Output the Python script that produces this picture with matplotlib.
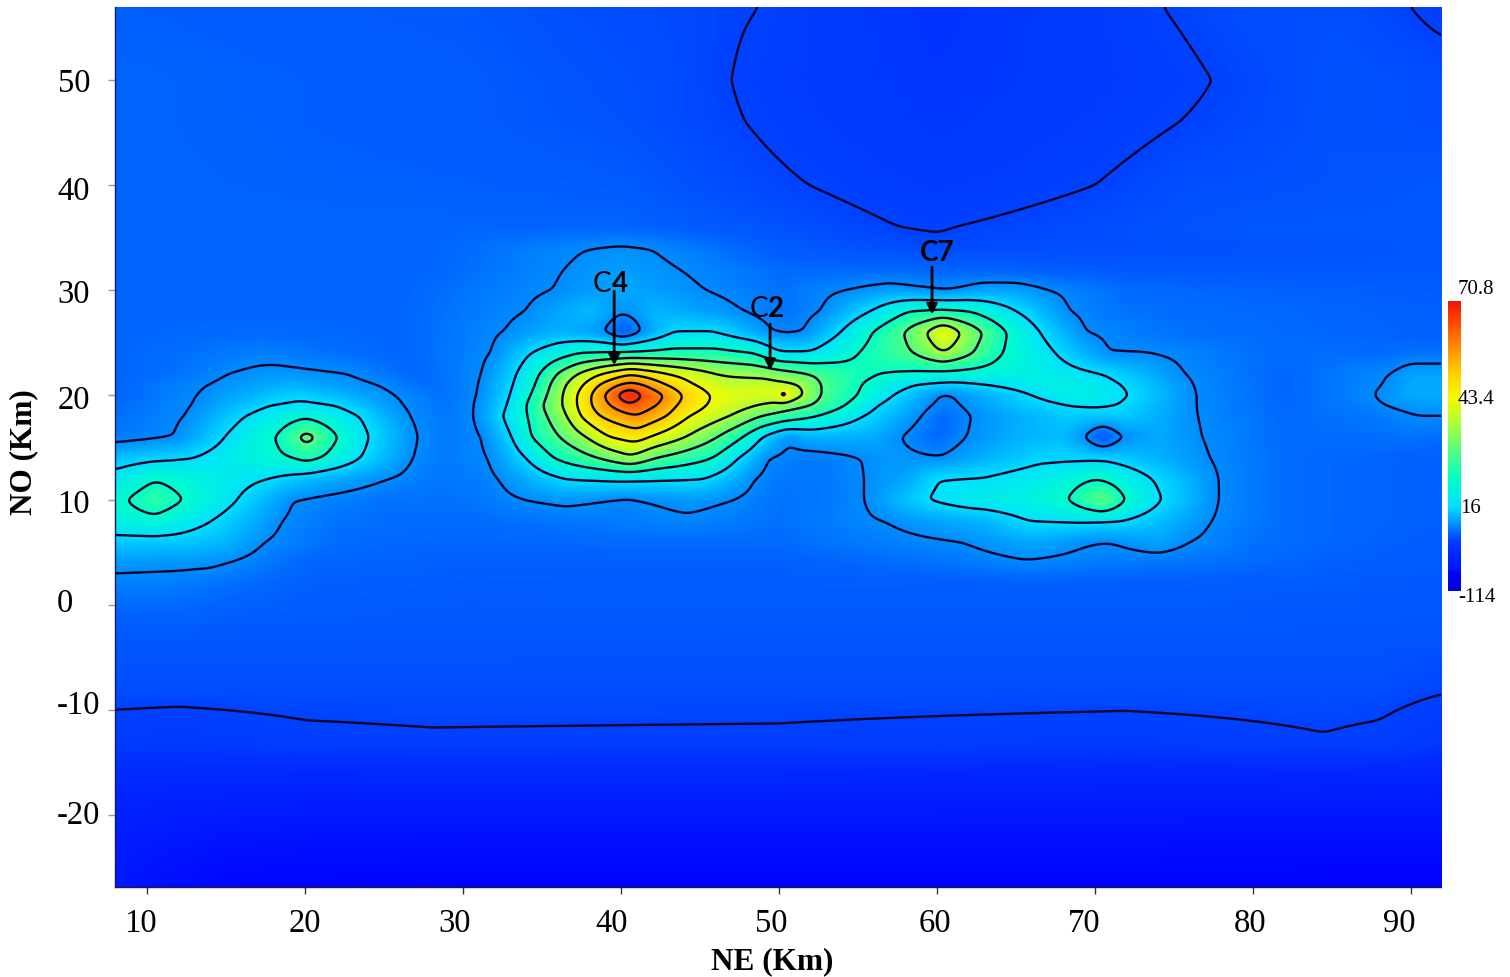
import numpy as np
import matplotlib
matplotlib.use('Agg')
import matplotlib.pyplot as plt
from matplotlib.colors import LinearSegmentedColormap, Normalize
from matplotlib.transforms import ScaledTranslation

W, H = 1510, 978
plt.rcParams['font.family'] = ['Liberation Serif', 'DejaVu Serif']

# values read along horizontal lines of the map: (NE km, value)
row_m27 = [(8, -22), (15, -36), (30, -40), (92, -40)]
row_m20 = [(8, -14), (20, -20), (60, -20), (92, -22)]
row_m13 = [(8, -0.25), (12, -0.9), (20, 1.0), (28, 1.47), (50, 1.23), (60, 0.62), (72, -0.07), (84.5, 1.71), (88, 1.0), (92, -1.6)]
row_m8 = [(8, 3.5), (88, 3.5), (92, 2.4)]
row_m3 = [(8, 4.5), (92, 4.3)]
row_2 = [(8, 8), (12, 7.8), (16, 6.5), (20, 5.5), (30, 5), (60, 5.2), (75, 5.2), (92, 4.5)]
row_4 = [(8, 10), (14, 9.6), (15, 9), (20, 6), (30, 5.5), (50, 5.5), (60, 7), (65.5, 8.6), (72, 7.5), (77, 7), (85, 5.5), (92, 5)]
row_6 = [(8, 14), (12, 14), (15, 12.5), (17.4, 9), (22, 6.5), (30, 6), (40, 6.5), (50, 6.5), (61.6, 9), (66, 11.5), (69, 9.5), (70.2, 9), (70.5, 8.9), (71.1, 9), (74, 11), (76, 9), (80, 7), (92, 5)]
row_8 = [(8, 20), (10.5, 21.5), (14.05, 16), (18.45, 9), (22, 7), (30, 6.5), (38, 7.5), (44, 8.5), (50, 7), (56.7, 9), (60, 11), (63, 12.5), (65.8, 16), (69, 16.6), (71.7, 16), (77.3, 9), (82, 6.5), (92, 5.5)]
row_10 = [(8, 22), (8.7, 23), (10.5, 27), (12.3, 23), (15.7, 16), (19.1, 9), (25, 7), (30, 7), (34, 9), (36.5, 9.8), (38.9, 9), (40.4, 8.4), (41.4, 9), (44.4, 10), (47, 9), (50, 7), (53, 7.5), (55.5, 9), (59.3, 16), (62, 18.5), (65, 19.5), (68.3, 23), (70.5, 32), (71.9, 23), (74.2, 16), (77.7, 9), (82, 6.5), (92, 5.5)]
row_12 = [(8, 18), (10.5, 22.7), (14, 19), (17.6, 16), (21, 12), (25.2, 9), (28, 7.5), (31, 8), (32.3, 9), (36.5, 16), (40, 17), (45.2, 16), (48.4, 9), (50, 7.5), (53, 7.5), (55.4, 9), (58, 11), (60, 16), (63, 16.3), (67, 19), (70.1, 23), (73.6, 16), (77.7, 9), (82, 6.5), (92, 5.5)]
row_14 = [(8, 13.5), (12.9, 16), (19.2, 23), (20.1, 25), (21, 23), (23.5, 16), (26.7, 9), (29, 7.5), (31.7, 9), (34, 16), (35.7, 23), (38.5, 30), (40.6, 36), (42.2, 30), (45.8, 23), (47.4, 16), (49.2, 9), (52, 7.5), (55.2, 9), (57, 10), (60.2, 9.2), (63, 12), (66.5, 15), (70.7, 15), (74, 12), (77.2, 9), (82, 6.5), (92, 5.5)]
row_16 = [(8, 7.5), (11.8, 9), (14.9, 16), (18.15, 23), (20.1, 33), (22.05, 23), (24, 16), (27, 9), (29, 7.5), (31.3, 9), (33.1, 16), (34.3, 23), (36.1, 30), (37.8, 37), (39.2, 44), (41, 47), (41.8, 44), (44.1, 37), (46.1, 30), (47.7, 23), (48.9, 16), (50.5, 9.2), (52, 12), (56, 11.5), (57.7, 9), (60, 6), (61.8, 9), (65, 12), (68, 13), (69.45, 8.5), (70.5, 3), (71.55, 8.5), (74, 11.5), (76.7, 9), (82, 6.5), (90, 7), (92, 6.5)]
row_18 = [(8, 7), (12.5, 9), (16.2, 16), (20, 22), (23.4, 16), (26.5, 9), (29, 7.5), (30.8, 9), (32.5, 16), (34.1, 23), (35.3, 30), (36.6, 37), (37.4, 44), (38.6, 51), (41, 58), (42.9, 51), (44.3, 44), (46.9, 37), (48.9, 30), (52.4, 23), (55.3, 16), (59, 9), (60.4, 6), (62.1, 9), (68, 14), (72, 14), (76.4, 9), (82, 6.5), (88, 7.5), (90.5, 9), (92, 9)]
row_19 = [(8, 6.5), (12.9, 9), (17.8, 16), (20, 17), (21.9, 16), (26.1, 9), (29, 7.2), (30.8, 9), (32.8, 16), (34, 23), (35, 30), (36.3, 37), (37.2, 44), (38.1, 51), (39.3, 58), (40.5, 64), (42.3, 58), (43.5, 51), (45.4, 44), (48.6, 37), (52, 30), (54.2, 23), (56.2, 16), (59.6, 9), (60.5, 8), (61.5, 9), (65, 13.5), (68.5, 16), (70, 16.5), (71.4, 16), (76.3, 9), (82, 6.3), (87, 8), (88.4, 9), (90, 10), (92, 10)]
row_20 = [(8, 6), (13.2, 9), (19.5, 15), (25.6, 9), (28.5, 7), (31, 9), (33, 16), (34.3, 23), (35.3, 30), (36.3, 37), (37.2, 44), (38.1, 51), (38.9, 58), (39.7, 65), (40.5, 72), (41.35, 65), (42.8, 58), (43.9, 51), (45.6, 44), (46.5, 43), (48, 41.5), (49.9, 42), (50.3, 52), (50.7, 42), (51.6, 37), (52.6, 30), (55, 23), (57.2, 16), (60.1, 9), (60.5, 8), (61, 9), (66, 16), (69, 20), (72.2, 16), (76.3, 9), (82, 6), (86, 8), (87.7, 9), (90, 11.5), (92, 11.5)]
row_21 = [(8, 6), (13.9, 9), (19, 12), (24.5, 9), (28, 6.5), (31.1, 9), (33.2, 16), (34.6, 23), (35.5, 30), (36.5, 37), (37.6, 44), (38.6, 51), (39.9, 58), (40.6, 60), (41.4, 58), (42.8, 51), (44.6, 44), (46.7, 39), (49, 40), (51.3, 37), (52.6, 30), (55.2, 23), (58.6, 16), (61, 14.5), (63, 16), (68, 20), (71.7, 16), (76.1, 9), (82, 6), (88.3, 9), (90, 11.5), (92, 11.5)]
row_22 = [(8, 6), (12, 7), (15.1, 9), (18, 10), (22.7, 9), (27, 6), (31.3, 9), (33.4, 16), (34.85, 23), (35.9, 30), (37.2, 37), (38.7, 44), (40.6, 51), (43.1, 44), (46.1, 37), (49, 35), (51.9, 30), (54, 26), (56.4, 23), (60, 21), (65, 20), (70.6, 16), (75.6, 9), (82, 6), (88.7, 9), (90, 11), (92, 11)]
row_24 = [(8, 6), (17, 8), (26, 6), (31.9, 9), (34.3, 16), (37.4, 23), (41, 24), (43.3, 25), (46, 25), (48.4, 23), (50, 16.5), (52, 16.5), (55, 23), (58.5, 30), (60.4, 37), (62.3, 30), (64.1, 23), (67.5, 16), (70.8, 9), (73.3, 9), (80, 7), (88, 6.5), (90, 7), (92, 7)]
row_26 = [(8, 6), (17, 6.5), (26, 6), (32.6, 9), (36, 12), (38, 10.5), (38.9, 9), (40.1, 4), (41.3, 9), (43.3, 16), (45.8, 16.2), (47, 14), (49.6, 9), (50.5, 8.5), (51.6, 9), (53.9, 16), (55.9, 23), (57.9, 30), (59.3, 37), (60.4, 45), (61.5, 37), (62.9, 30), (64.4, 23), (66.5, 16), (69.3, 9), (75, 7), (92, 5.5)]
row_28 = [(8, 6), (26, 6), (34, 9), (38, 13), (39.5, 10.5), (40, 9.5), (41, 10.5), (42, 12.5), (47.7, 9), (50.3, 7), (52.7, 9), (55.8, 16), (58.2, 23), (60.2, 24), (62, 23), (65, 16), (68.3, 9), (72, 7), (92, 5.5)]
row_30 = [(8, 6), (26, 6), (35.7, 9), (40, 11.5), (45.3, 9), (48, 8), (50, 7), (54.3, 9), (57, 10.5), (59.5, 9.3), (60.4, 8.8), (61, 9), (63, 11), (65, 11), (67.1, 9), (72, 6.5), (92, 5)]
row_32 = [(8, 6), (28, 6), (36.4, 9), (40, 10.5), (43.7, 9), (50, 6.5), (60, 6), (68, 5), (80, 4.5), (92, 4.5)]
row_34 = [(8, 6), (28, 6), (37.9, 9), (40, 9.4), (41.9, 9), (50, 5), (55, 4), (60, 3.2), (70, 3.5), (92, 4.5)]
row_36 = [(8, 6), (40, 6), (50, 4), (57.6, 2), (60, 1.6), (61.1, 2), (70, 3.5), (80, 4.5), (92, 4.5)]
row_40 = [(8, 6), (30, 5.5), (40, 5), (51.9, 2), (60, 0), (70, 2), (75, 3.5), (92, 4.5)]
row_46 = [(8, 6), (30, 5), (40, 4), (47.9, 2), (60, -2), (75.3, 2), (85, 4), (92, 3.5)]
row_50 = [(8, 6), (30, 5), (42, 3.5), (47, 2), (60, -3), (77.4, 2), (85, 4), (92, 3.5)]
row_57 = [(8, 5.5), (30, 4.5), (42, 3), (48.8, 2), (60, -4), (74.3, 2), (80, 3.5), (86, 3.5), (90, 2), (92, 1)]

row_no = [-27, -20, -13, -8, -3, 2, 4, 6, 8, 10, 12, 14, 16, 18, 19, 20, 21, 22, 24, 26, 28, 30, 32, 34, 36, 40, 46, 50, 57]
rows = [row_m27, row_m20, row_m13, row_m8, row_m3, row_2, row_4, row_6, row_8, row_10, row_12, row_14, row_16,
        row_18, row_19, row_20, row_21, row_22, row_24, row_26, row_28, row_30, row_32, row_34, row_36, row_40, row_46, row_50, row_57]

levels = [2, 9, 16, 23, 30, 37, 44, 51, 58, 65]
color_values = [-114, -40, -20, -8, 2, 6, 9, 16, 23, 30, 37, 44, 51, 58, 65, 70.8]
color_list = ['#0000d7', '#0000ff', '#0019ff', '#0028ff', '#0041ff', '#0064ff', '#008cff', '#00e1ff',
              '#00ffc8', '#50ff82', '#aaff3c', '#f5fa00', '#ffcd00', '#ff8c00', '#ff4600', '#f01400']
bar_values = [-114, -20, 5, 16, 43.4, 70.8]
bar_pos = [0, 0.076, 0.19, 0.29, 0.66, 1]
bar_labels = ['-114', '16', '43.4', '70.8']

xticks = [10, 20, 30, 40, 50, 60, 70, 80, 90]
yticks = [-20, -10, 0, 10, 20, 30, 40, 50]
# the labels do not sit right under their ticks in the original
xlabel_shift = [-7, 0, -9, -10, -8, -2, -11, -3, -12]
ylabel_shift = [3, 8, 6, 0, -1, 0, -2, 1]
ylabel_side = [10, 10, -17, 0, 0, 0, 0, 0]

# build the map from the rows
ne = np.arange(8, 92.05, 0.1)
no = np.arange(-27, 57.05, 0.1)
coarse = np.array([np.interp(ne, [p[0] for p in r], [p[1] for p in r]) for r in rows])
field = np.array([np.interp(no, row_no, coarse[:, j]) for j in range(len(ne))]).T

# light smoothing so the lines are not all corners
kernel = np.exp(-0.5 * (np.arange(-12, 13) / 3.0) ** 2)
kernel = kernel / kernel.sum()
pad = np.pad(field, 12, mode='edge')
pad = np.apply_along_axis(lambda a: np.convolve(a, kernel, mode='same'), 0, pad)
pad = np.apply_along_axis(lambda a: np.convolve(a, kernel, mode='same'), 1, pad)
field = pad[12:-12, 12:-12]

vmin, vmax = -114, 70.8
stops = [(v - vmin) / (vmax - vmin) for v in color_values]
cmap = LinearSegmentedColormap.from_list('map', list(zip(stops, color_list)), N=1024)
norm = Normalize(vmin, vmax)

fig = plt.figure(figsize=(W / 100, H / 100), dpi=100)
ax = fig.add_axes([115 / W, 1 - 888 / H, 1326 / W, 880 / H])
ax.imshow(field, extent=[8, 92, -27, 57], origin='lower', aspect='auto', cmap=cmap, norm=norm, interpolation='bilinear')
ax.contour(ne, no, field, levels=levels, colors='#04042a', linewidths=1.7)
ax.set_xlim(7.96, 91.9)
ax.set_ylim(-26.9, 57)

for s in ['top', 'right']:
    ax.spines[s].set_visible(False)
for s in ['left', 'bottom']:
    ax.spines[s].set_color('#1a1a5a')
    ax.spines[s].set_linewidth(1)

ax.set_xticks(xticks)
ax.set_xticklabels([str(t) for t in xticks], fontsize=23.5)
ax.set_yticks(yticks)
ax.set_yticklabels([str(t) for t in yticks], fontsize=23.5)
ax.tick_params(axis='x', length=5, width=1, color='#333333', pad=10)
ax.tick_params(axis='y', length=5, width=1, color='#999999', pad=13)
for lab, dx in zip(ax.get_xticklabels(), xlabel_shift):
    lab.set_transform(lab.get_transform() + ScaledTranslation(dx / 100, 0, fig.dpi_scale_trans))
for lab, dy, dx in zip(ax.get_yticklabels(), ylabel_shift, ylabel_side):
    lab.set_transform(lab.get_transform() + ScaledTranslation(dx / 100, dy / 100, fig.dpi_scale_trans))

fig.text(772 / W, 1 - 962 / H, 'NE (Km)', fontsize=22.5, fontweight='bold', ha='center', va='center')
fig.text(24 / W, 1 - 452 / H, 'NO (Km)', fontsize=22.5, fontweight='bold', rotation=90, ha='center', va='center')

# cluster arrows
arrows = [(39.56, 22.86, 29.9), (49.43, 22.4, 26.76), (59.68, 27.7, 32.2)]
for x, tip, tail in arrows:
    ax.annotate('', xy=(x, tip), xytext=(x, tail),
                arrowprops=dict(arrowstyle='-|>,head_width=0.32,head_length=0.6', color='black', lw=2, shrinkA=0, shrinkB=0))
ax.text(39.4, 29.95, 'C', family='Lato', fontsize=20, ha='right', va='baseline')
ax.text(39.4, 29.95, '4', family='Lato', fontsize=20, fontweight='bold', ha='left', va='baseline')
ax.text(49.3, 27.5, 'C', family='Lato', fontsize=20, ha='right', va='baseline')
ax.text(49.3, 27.5, '2', family='Lato', fontsize=20, fontweight='bold', ha='left', va='baseline')
ax.text(60.0, 32.85, 'C7', family='Lato', fontsize=20, fontweight='bold', ha='center', va='baseline')

# colour bar
cax = fig.add_axes([1448 / W, 1 - 592 / H, 13 / W, 290 / H])
bar = np.interp(np.linspace(0, 1, 290), bar_pos, bar_values)[:, None]
cax.imshow(bar, origin='lower', aspect='auto', cmap=cmap, norm=norm, extent=[0, 1, 0, 1])
cax.axis('off')
for lab, x, y in zip(bar_labels, [1458, 1460, 1458, 1458], [598, 509, 400, 289]):
    fig.text(x / W, 1 - y / H, lab, fontsize=15, ha='left', va='center')

fig.savefig('out.png', dpi=100)
